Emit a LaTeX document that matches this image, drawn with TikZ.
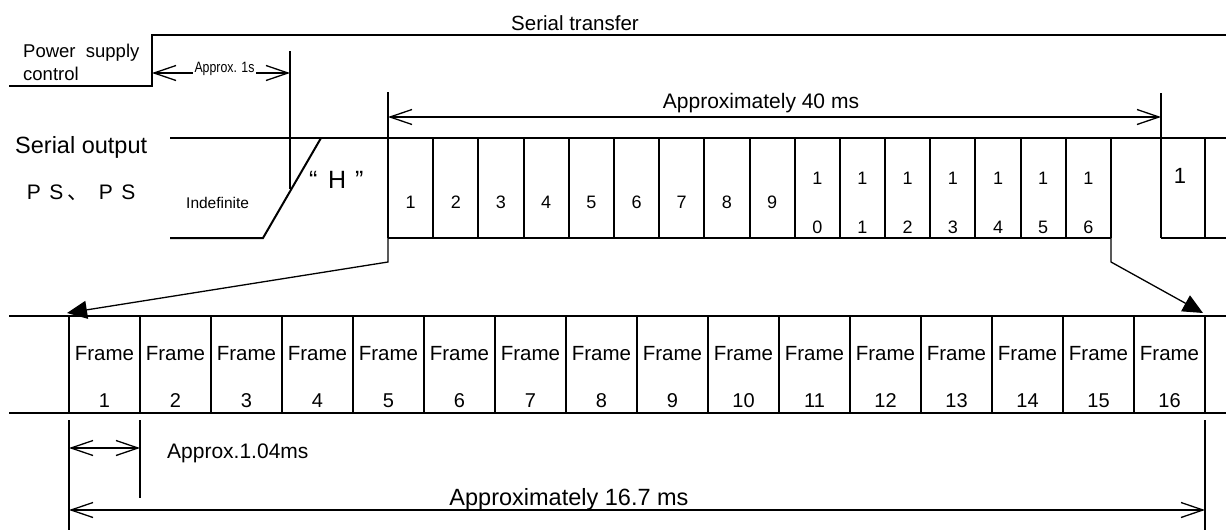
\documentclass[tikz,border=0pt]{standalone}
\usepackage{fontspec}
\setmainfont{Liberation Sans}
\newfontfamily\cjk{Noto Sans CJK SC}
\usetikzlibrary{arrows.meta}
\begin{document}
\begin{tikzpicture}[x=1pt,y=-1pt,
  sig/.style={line width=2pt},
  tickline/.style={line width=1.3pt},
  barb/.tip={Straight Barb[length=22pt,width=15pt,line width=1.3pt]},
  dimarrow/.style={line width=1.3pt,barb-barb},
  lead/.style={line width=1.3pt,-{Triangle[length=20pt,width=18pt]}},
  txt/.style={inner sep=0pt,font=\fontsize{#1}{#1}\selectfont},
]
\useasboundingbox (0,0) rectangle (1226,530);

% ---------- power supply control ----------
\coordinate (psL) at (9,86);
\coordinate (psA) at (152,86);
\coordinate (psB) at (152,35);
\coordinate (psR) at (1226,35);
\draw[sig] (psL) -- (psA) -- (psB) -- (psR);
\node[txt=20.5,anchor=base] (stlab) at (575,30) {Serial transfer};
\node[txt=18.5,anchor=base west] (pslab1) at (23,57) {Power\ \ supply};
\node[txt=18.5,anchor=base west] (pslab2) at (23,80) {control};

% approx 1s
\coordinate (onesL) at (152,73);
\coordinate (onesR) at (290,73);
\coordinate (onesTop) at (290,51);
\coordinate (onesBot) at (290,189);
\draw[tickline] (onesTop) -- (onesBot);
\draw[dimarrow] (onesL) -- (onesR);
\node[txt=15,anchor=base,fill=white,inner xsep=2pt] (oneslab) at (224.5,72) {\scalebox{0.82}[1]{Approx. 1s}};

% ---------- serial output ----------
\node[txt=23.5,anchor=base west] (solab) at (15,153) {Serial output};
\node[txt=21,anchor=base west] (pslab) at (22.5,199)
  {\makebox[22.5pt]{P}\makebox[22.5pt]{S}\makebox[27pt][l]{\cjk 、}\makebox[22.5pt]{P}\makebox[22.5pt]{S}};
\node[txt=15.5,anchor=base west] (indef) at (186,208) {Indefinite};
\node[txt=25,anchor=base west] (hlab) at (309,188)
  {\makebox[19pt][l]{“}\makebox[27pt][l]{H}\makebox[10pt][l]{”}};

\draw[sig] (170,138) -- (1226,138);
\draw[sig] (170,238) -- (263,238) -- (321,138);
\draw[sig] (388,238) -- (1111,238);
\draw[sig] (1161,238) -- (1226,238);
\foreach \i in {0,...,16}
  \draw[sig] ({388+\i*45.1875},138) -- ({388+\i*45.1875},238);
\draw[sig] (1161,138) -- (1161,238);
\draw[sig] (1205,138) -- (1205,238);

\foreach \i in {1,...,9}
  \node[txt=18,anchor=base] (bit\i) at ({388+(\i-0.5)*45.1875},208) {\i};
\foreach \i [evaluate=\i as \d using int(\i-10)] in {10,...,16} {
  \node[txt=18,anchor=base] (bitA\i) at ({388+(\i-0.5)*45.1875},184) {1};
  \node[txt=18,anchor=base] (bitB\i) at ({388+(\i-0.5)*45.1875},233) {\d};
}
\node[txt=22,anchor=base] (nextbit) at (1180,183) {1};

% approx 40 ms
\coordinate (fortyL) at (388,117);
\coordinate (fortyR) at (1161,117);
\coordinate (fortyLtop) at (388,92);
\coordinate (fortyRtop) at (1161,93);
\draw[tickline] (fortyLtop) -- (388,138);
\draw[tickline] (fortyRtop) -- (1161,138);
\draw[dimarrow] (fortyL) -- (fortyR);
\node[txt=21,anchor=base] (fortylab) at (761,108) {Approximately 40 ms};

% ---------- frame row ----------
\draw[sig] (9,316) -- (1226,316);
\draw[sig] (9,413) -- (1226,413);
\foreach \j in {0,...,16}
  \draw[sig] ({69+\j*71},316) -- ({69+\j*71},413);
\foreach \j in {1,...,16} {
  \node[txt=20.5,anchor=base] (fr\j) at ({69+(\j-0.5)*71},360) {Frame};
  \node[txt=20,anchor=base] (fn\j) at ({69+(\j-0.5)*71},407) {\j};
}

% leads
\coordinate (leadLtop) at (388,238);
\coordinate (leadLbend) at (388,262);
\coordinate (leadLtip) at (67,313);
\draw[lead] (leadLtop) -- (leadLbend) -- (leadLtip);
\coordinate (leadRtop) at (1111,238);
\coordinate (leadRbend) at (1111,262);
\coordinate (leadRtip) at (1203,313);
\draw[lead] (leadRtop) -- (leadRbend) -- (leadRtip);

% bottom dimensions
\coordinate (t1top) at (69,420);
\coordinate (t1bot) at (69,530);
\coordinate (t2top) at (140,420);
\coordinate (t2bot) at (140,498);
\coordinate (t3top) at (1205,420);
\coordinate (t3bot) at (1205,530);
\draw[tickline] (t1top) -- (t1bot);
\draw[tickline] (t2top) -- (t2bot);
\draw[tickline] (t3top) -- (t3bot);
\draw[dimarrow] (69,448) -- (140,448);
\node[txt=21,anchor=base west] (frlab) at (167,458) {Approx.1.04ms};
\draw[dimarrow] (69,510) -- (1205,510);
\node[txt=23.5,anchor=base] (totlab) at (569,505) {Approximately 16.7 ms};
\end{tikzpicture}
\end{document}
